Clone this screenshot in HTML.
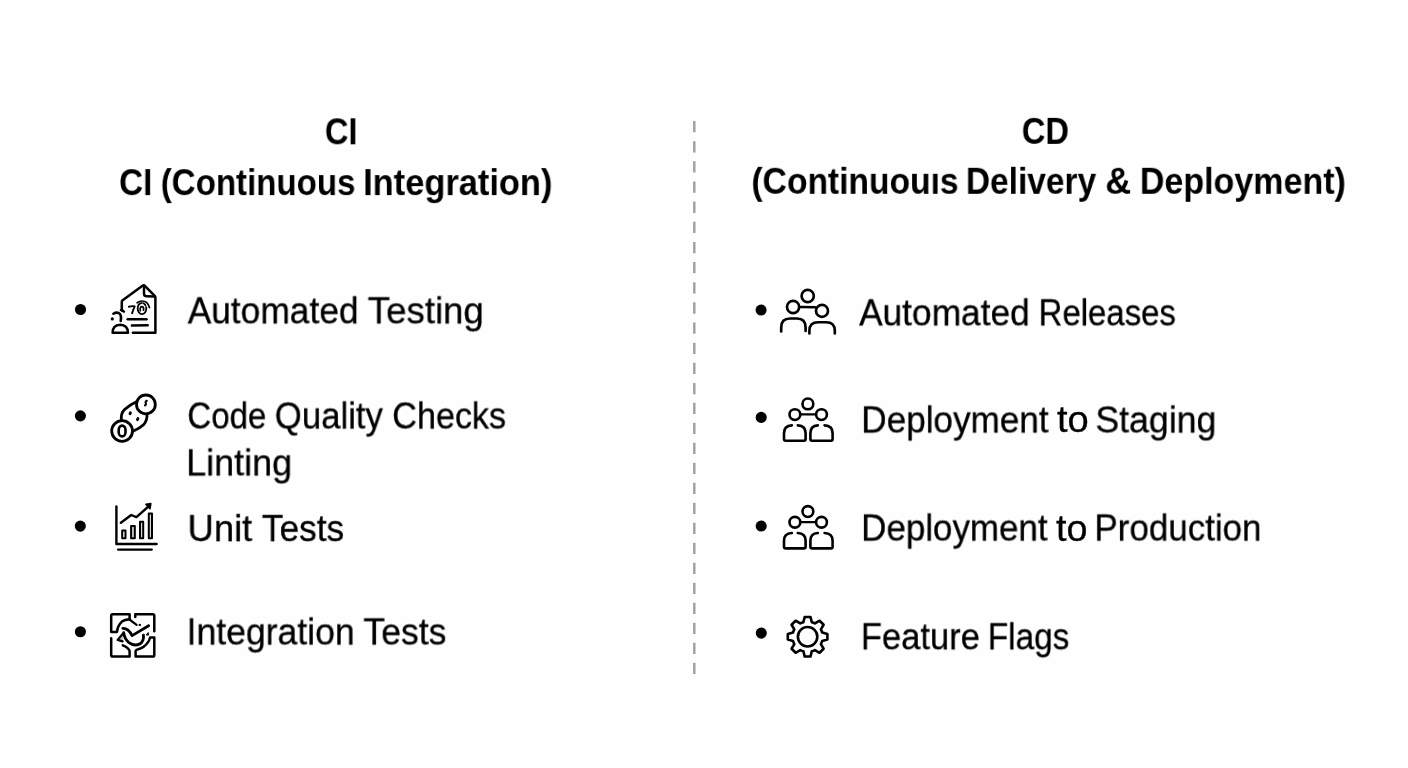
<!DOCTYPE html>
<html lang="en">
<head>
<meta charset="utf-8">
<title>CI vs CD</title>
<style>
html,body{margin:0;padding:0;}
body{width:1408px;height:768px;background:#fefefe;position:relative;overflow:hidden;font-family:"Liberation Sans",sans-serif;color:#000;}
h2,p{margin:0;padding:0;position:absolute;left:0;top:0;width:0;height:0;}
.t{position:absolute;white-space:nowrap;margin:0;padding:0;transform-origin:0 0;will-change:transform;}
.h{font-weight:700;font-size:36.4px;line-height:43.68px;}
.b{font-weight:400;font-size:36.9px;line-height:44.28px;-webkit-text-stroke:0.3px #000;}
svg.art{position:absolute;left:0;top:0;width:1408px;height:768px;}
</style>
</head>
<body>
<svg class="art" viewBox="0 0 1408 768" width="1408" height="768" fill="none" stroke="#000" stroke-width="2.4" stroke-linecap="round" stroke-linejoin="round">
<!-- divider -->
<line x1="694.3" y1="121.0" x2="694.3" y2="400" stroke="#a2a2a2" stroke-width="2.5" stroke-dasharray="11.3 8.85" stroke-linecap="butt"/>
<line x1="694.3" y1="402.8" x2="694.3" y2="675" stroke="#a2a2a2" stroke-width="2.5" stroke-dasharray="11.3 8.7" stroke-linecap="butt"/>
<!-- bullets -->
<circle cx="80.5" cy="309.5" r="5.55" fill="#000" stroke="none"/>
<circle cx="80.4" cy="415.85" r="5.55" fill="#000" stroke="none"/>
<circle cx="80.3" cy="526.1" r="5.55" fill="#000" stroke="none"/>
<circle cx="80.4" cy="631.75" r="5.55" fill="#000" stroke="none"/>
<circle cx="761.1" cy="310.05" r="5.55" fill="#000" stroke="none"/>
<circle cx="761.2" cy="417.4" r="5.55" fill="#000" stroke="none"/>
<circle cx="761.2" cy="526.05" r="5.55" fill="#000" stroke="none"/>
<circle cx="761.3" cy="633.1" r="5.55" fill="#000" stroke="none"/>
<!-- icon: document + person (Automated Testing) -->
<g id="ic-doc" transform="translate(0.3 0.55)" stroke-width="2.5">
<path d="M123.6 311 Q121.4 310.2 121.5 308.2 V301.2 Q121.5 300.2 122.4 299.6 L142.2 285.2 Q143.6 284.2 144.8 285.5 L154.4 295.3 Q155.1 296 155.1 297 V332.3 H132.6"/>
<path d="M120.4 309.6 L122 310.2" stroke-width="2"/>
<path d="M143.7 285.6 V293.3 Q143.7 295.6 146 295.7 L154.4 296"/>
<ellipse cx="141.7" cy="308" rx="4.3" ry="5.6" stroke-width="1.8" stroke-dasharray="22 2 3 2"/>
<path d="M140 310.2 Q139.4 306 141.8 306.1 Q143.8 306.4 143.2 309.6" stroke-width="1.7"/>
<path d="M136.8 302.2 Q141.6 298.8 146.4 302 Q148.6 304 149.2 307" stroke-width="1.7"/>
<path d="M128.6 306.2 Q131.8 305.2 134.4 305.8 Q133 308.6 131.8 312.8" stroke-width="1.9"/>
<path d="M127.4 318.8 L146.2 318.8"/>
<path d="M131.6 325 L147.4 324.8"/>
<path d="M113 313.2 Q117.2 310.8 119.8 313.6 Q121.4 316.2 120.4 320.4"/>
<circle cx="112" cy="318.4" r="1.6" fill="#000" stroke="none"/>
<path d="M112.3 332.2 Q112.3 324.2 119.9 324.1 Q127.5 324.2 127.7 332.2 Z"/>
</g>
<!-- icon: coins/capsule (Code Quality) -->
<g id="ic-coin" stroke-width="2.8">
<path d="M121.4 420.6 Q120.6 413.4 124.6 409.6 Q130 404.6 136 402"/>
<path d="M147 413.6 Q147.4 420.4 143.8 424.4 Q139.6 428.4 133 431.2"/>
<circle cx="145.9" cy="404.4" r="9.4" fill="#fefefe"/>
<circle cx="122.1" cy="431" r="10.4" fill="#fefefe"/>
<rect x="118.7" y="425.6" width="6.8" height="10.8" rx="3.4" ry="4.2" stroke-width="2.6"/>
<ellipse cx="130.2" cy="413.3" rx="1.5" ry="2" fill="#000" stroke="none" transform="rotate(25 130.2 413.3)"/>
<ellipse cx="137.7" cy="419.1" rx="1.5" ry="2.1" fill="#000" stroke="none" transform="rotate(25 137.7 419.1)"/>
<path d="M146.8 400.8 Q145 401.6 145.8 403 Q146.4 404.4 145 405.4" stroke-width="2.1"/>
</g>
<!-- icon: bar chart (Unit Tests) -->
<g id="ic-chart">
<path d="M116.4 506.4 V544 H156.6"/>
<path d="M118.2 549.6 H151.6"/>
<rect x="122.2" y="530.6" width="3.3" height="7.6" stroke-width="2"/>
<rect x="131.1" y="525.9" width="3.7" height="12.3" stroke-width="2" fill="#d8d8d8"/>
<rect x="140" y="521.7" width="3.2" height="16.5" stroke-width="2" fill="#d8d8d8"/>
<rect x="148.8" y="513.4" width="3.2" height="24.8" stroke-width="2" fill="#d8d8d8"/>
<path d="M120.9 522.7 L131.2 515 L136.4 517.1 L148.6 506.4" stroke-width="2.4"/>
<path d="M146 504.4 L150.8 503.6 L150 508.8 Z" fill="#000" stroke-width="1.6"/>
</g>
<!-- icon: integration puzzle (Integration Tests) -->
<g id="ic-puzzle" stroke-width="2.5">
<path d="M129.6 614.2 H112.8 Q111.2 614.2 111.2 615.8 V631.9 H117 Q117.4 626 121.9 621.6 Q124.6 619.6 129.6 619.2 Z"/>
<path d="M128.8 619 Q132 621.4 136.6 624.8" stroke-width="2.2"/>
<circle cx="139.8" cy="624.9" r="1.2" fill="#000" stroke="none"/>
<path d="M135.3 617 V614.2 H152.7 Q154.3 614.2 154.3 615.8 V631.2"/>
<path d="M111.2 638.3 V655 Q111.2 656.6 112.8 656.6 H129.6 V651 Q128.4 647.6 122.8 645.3"/>
<path d="M154.3 637.6 V655 Q154.3 656.6 152.7 656.6 H135.6 V651 Q136 649.6 138.2 649.2 Q144.6 647.6 148 642.2 Q149.6 640 150 637.6 Z"/>
<path d="M122.8 628.3 Q128.4 628 132.1 635.6 L148.6 625.8" stroke-width="2.8"/>
<path d="M143.4 635.2 Q144.2 641.4 139.4 644.2 Q134 646.4 129 642.6 Q124.4 638.6 123.7 632.8" stroke-width="2.9"/>
<path d="M122.9 633.6 L117.6 639.9 L122.6 641.4" stroke-width="2.2" fill="#bbb"/>
<path d="M146.4 634.6 L148.2 632.6 L148.4 634.8 Z" fill="#000" stroke-width="1"/>
</g>
<!-- icon: people (Automated Releases) -->
<g id="ic-ppl1" stroke-width="2.65">
<circle cx="807.7" cy="296" r="6.1"/>
<circle cx="793.1" cy="307" r="6.1"/>
<circle cx="822" cy="310.9" r="6"/>
<path d="M800.4 307 L815.4 307.3"/>
<path d="M781.2 331.4 V327.4 Q781.2 318.5 790 318.5 H797 Q805.6 318.5 805.6 327.4 V331"/>
<path d="M809.4 333.4 V330.8 Q809.4 322.2 818 322.2 H826.2 Q834.8 322.2 834.8 330.8 V333.4"/>
</g>
<!-- icon: people (Deployment to Staging) -->
<g id="ic-ppl2" stroke-width="2.6">
<circle cx="807.9" cy="403.9" r="5.4"/>
<circle cx="794.9" cy="414.6" r="5.4"/>
<circle cx="821.5" cy="414.6" r="5.4"/>
<path d="M801.4 414.4 H815" stroke-width="2.2"/>
<path d="M791.8 425.4 Q784 425.6 784 433.2 V439 Q784 440.7 785.7 440.7 H803.9 Q805.6 440.7 805.6 439 V433.2 Q805.6 425.6 797.8 425.4"/>
<path d="M817.8 425.4 Q810.4 425.6 810.4 433.2 V439 Q810.4 440.7 812.1 440.7 H830.9 Q832.6 440.7 832.6 439 V433.2 Q832.6 425.6 824.6 425.4"/>
</g>
<!-- icon: people (Deployment to Production) -->
<g id="ic-ppl3" transform="translate(0 107.65)" stroke-width="2.6">
<circle cx="807.9" cy="403.9" r="5.4"/>
<circle cx="794.9" cy="414.6" r="5.4"/>
<circle cx="821.5" cy="414.6" r="5.4"/>
<path d="M801.4 414.4 H815" stroke-width="2.2"/>
<path d="M791.8 425.4 Q784 425.6 784 433.2 V439 Q784 440.7 785.7 440.7 H803.9 Q805.6 440.7 805.6 439 V433.2 Q805.6 425.6 797.8 425.4"/>
<path d="M817.8 425.4 Q810.4 425.6 810.4 433.2 V439 Q810.4 440.7 812.1 440.7 H830.9 Q832.6 440.7 832.6 439 V433.2 Q832.6 425.6 824.6 425.4"/>
</g>
<!-- icon: gear (Feature Flags) -->
<g id="ic-gear" stroke-width="2.6">
<circle cx="807.6" cy="636.75" r="9.7"/>
<path d="M803.40 622.14 L804.75 616.95 L810.45 616.95 L811.80 622.14 A15.2 15.2 0 0 1 814.96 623.45 L819.58 620.74 L823.61 624.77 L820.90 629.39 A15.2 15.2 0 0 1 822.21 632.55 L827.40 633.90 L827.40 639.60 L822.21 640.95 A15.2 15.2 0 0 1 820.90 644.11 L823.61 648.73 L819.58 652.76 L814.96 650.05 A15.2 15.2 0 0 1 811.80 651.36 L810.45 656.55 L804.75 656.55 L803.40 651.36 A15.2 15.2 0 0 1 800.24 650.05 L795.62 652.76 L791.59 648.73 L794.30 644.11 A15.2 15.2 0 0 1 792.99 640.95 L787.80 639.60 L787.80 633.90 L792.99 632.55 A15.2 15.2 0 0 1 794.30 629.39 L791.59 624.77 L795.62 620.74 L800.24 623.45 A15.2 15.2 0 0 1 803.40 622.14 Z"/>
</g>

</svg>
<h2 class="h" id="h1l"><span class="t" id="h1l_0" style="left:324px;top:110px;transform:translate(0.89px,0.29px) scaleX(0.8959)">CI</span></h2>
<h2 class="h" id="h2l"><span class="t" id="h2l_0" style="left:119px;top:161px;transform:translate(0.07px,0.07px) scaleX(0.9154)">CI</span> <span class="t" id="h2l_1" style="left:160px;top:161px;transform:translate(0.75px,0.07px) scaleX(0.9089)">(Continuous</span> <span class="t" id="h2l_2" style="left:363px;top:161px;transform:translate(0.18px,0.07px) scaleX(0.9455)">Integration)</span></h2>
<h2 class="h" id="h1r"><span class="t" id="h1r_0" style="left:1021px;top:109px;transform:translate(0.78px,0.82px) scaleX(0.8981)">CD</span></h2>
<h2 class="h" id="h2r"><span class="t" id="h2r_0" style="left:751px;top:159px;transform:translate(0.45px,0.81px) scaleX(0.9235)">(Continuouıs</span> <span class="t" id="h2r_1" style="left:965px;top:159px;transform:translate(0.89px,0.81px) scaleX(0.9194)">Delivery</span> <span class="t" id="h2r_2" style="left:1105px;top:159px;transform:translate(0.25px,0.81px) scaleX(0.9891)">&amp;</span> <span class="t" id="h2r_3" style="left:1139px;top:159px;transform:translate(0.87px,0.81px) scaleX(0.9347)">Deployment)</span></h2>
<p class="b" id="l1"><span class="t" id="l1_0" style="left:187px;top:289px;transform:translate(0.73px,0.34px) scaleX(0.9570)">Automated</span> <span class="t" id="l1_1" style="left:367px;top:289px;transform:translate(0.70px,0.34px) scaleX(0.9940)">Testing</span></p>
<p class="b" id="l2"><span class="t" id="l2_0" style="left:187px;top:394px;transform:translate(0.36px,0.45px) scaleX(0.8940)">Code</span> <span class="t" id="l2_1" style="left:274px;top:394px;transform:translate(0.75px,0.45px) scaleX(0.9424)">Quality</span> <span class="t" id="l2_2" style="left:392px;top:394px;transform:translate(0.24px,0.45px) scaleX(0.9257)">Checks</span></p>
<p class="b" id="l2b"><span class="t" id="l2b_0" style="left:186px;top:441px;transform:translate(0.16px,0.40px) scaleX(0.9736)">Linting</span></p>
<p class="b" id="l3"><span class="t" id="l3_0" style="left:187px;top:507px;transform:translate(0.53px,0.11px) scaleX(0.9864)">Unit</span> <span class="t" id="l3_1" style="left:261px;top:507px;transform:translate(0.85px,0.11px) scaleX(0.9546)">Tests</span></p>
<p class="b" id="l4"><span class="t" id="l4_0" style="left:186px;top:610px;transform:translate(0.61px,0.49px) scaleX(0.9645)">Integration</span> <span class="t" id="l4_1" style="left:363px;top:610px;transform:translate(0.39px,0.49px) scaleX(0.9631)">Tests</span></p>
<p class="b" id="r1"><span class="t" id="r1_0" style="left:859px;top:291px;transform:translate(0.11px,0.34px) scaleX(0.9557)">Automated</span> <span class="t" id="r1_1" style="left:1038px;top:291px;transform:translate(0.55px,0.34px) scaleX(0.8933)">Releases</span></p>
<p class="b" id="r2"><span class="t" id="r2_0" style="left:861px;top:398px;transform:translate(0.22px,0.46px) scaleX(0.9522)">Deployment</span> <span class="t" id="r2_1" style="left:1056px;top:398px;transform:translate(0.93px,0.46px) scaleX(1.0320)">to</span> <span class="t" id="r2_2" style="left:1095px;top:398px;transform:translate(0.37px,0.46px) scaleX(0.9677)">Staging</span></p>
<p class="b" id="r3"><span class="t" id="r3_0" style="left:861px;top:506px;transform:translate(0.11px,0.55px) scaleX(0.9475)">Deployment</span> <span class="t" id="r3_1" style="left:1056px;top:506px;transform:translate(0.07px,0.55px) scaleX(1.0239)">to</span> <span class="t" id="r3_2" style="left:1094px;top:506px;transform:translate(0.39px,0.55px) scaleX(0.9476)">Production</span></p>
<p class="b" id="r4"><span class="t" id="r4_0" style="left:860px;top:615px;transform:translate(0.81px,0.26px) scaleX(0.9375)">Feature</span> <span class="t" id="r4_1" style="left:987px;top:615px;transform:translate(0.78px,0.26px) scaleX(0.9042)">Flags</span></p>
</body>
</html>
